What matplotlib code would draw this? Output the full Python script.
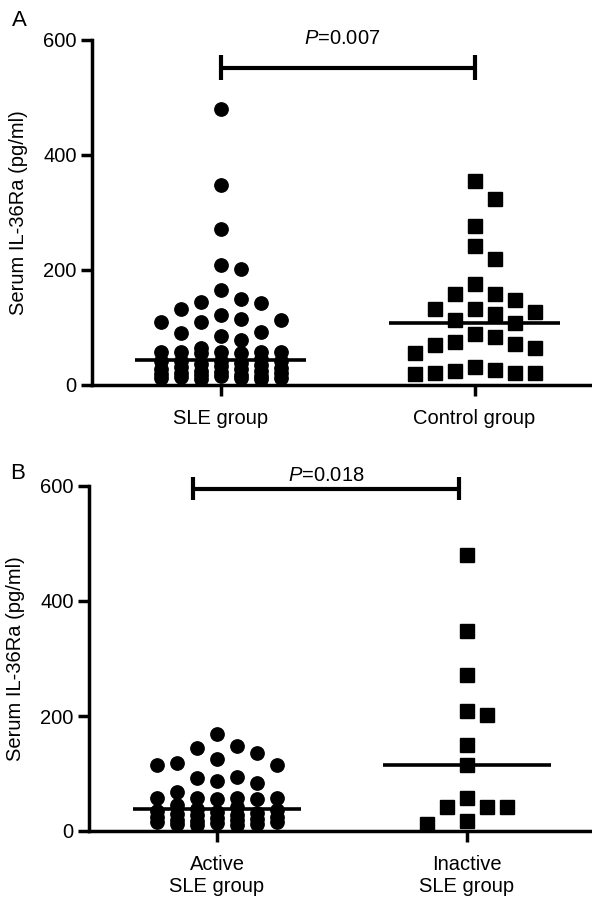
import numpy as np
import matplotlib
matplotlib.use("Agg")
import matplotlib.pyplot as plt

plt.rcParams['font.family'] = ['Liberation Sans', 'DejaVu Sans']
plt.rcParams['mathtext.fontset'] = 'custom'
plt.rcParams['mathtext.rm'] = 'Liberation Sans'
plt.rcParams['mathtext.it'] = 'Liberation Sans:italic'

# ---------------- data ----------------
groups_a = ['SLE group', 'Control group']
sle = [480, 347, 271, 209, 202, 165, 150, 145, 142, 132, 122, 115, 113, 110, 110,
       93, 91, 85, 78, 64, 58, 58, 57, 57, 57, 56, 55,
       45, 42, 42, 42, 42, 38, 36, 35, 33, 32, 30, 28, 27, 25, 24, 22, 21, 20,
       19, 17, 17, 16, 15, 14, 13, 12, 12, 11, 10]
control = [354, 323, 277, 242, 219, 175, 159, 159, 147, 133, 133, 127, 123, 113, 108,
           89, 84, 75, 72, 70, 64, 55, 32, 26, 25, 20, 20, 20, 19]

groups_b = ['Active\nSLE group', 'Inactive\nSLE group']
active = [169, 148, 144, 135, 125, 118, 115, 115, 94, 93, 87, 83, 68,
          58, 58, 57, 57, 56, 55,
          45, 42, 38, 36, 35, 33, 32, 30, 28, 27, 25, 24, 22, 21, 20, 19, 17,
          16, 15, 14, 13, 12, 11, 10]
inactive = [480, 348, 271, 209, 202, 150, 115, 58, 42, 42, 42, 17, 12]

p_text_a = 'P=0.007'
p_text_b = 'P=0.018'
y_label = 'Serum IL-36Ra (pg/ml)'
y_ticks = [0, 200, 400, 600]

# ---------------- figure ----------------
W, H = 592, 898
fig = plt.figure(figsize=(W / 100, H / 100), dpi=100)


def px_axes(left, right, top, bottom):
    return fig.add_axes([left / W, 1 - bottom / H, (right - left) / W, (bottom - top) / H])


axA = px_axes(92, 592, 40, 385)
axB = px_axes(89, 592, 486, 831)

LW = 2.5
FS = 14.5


def style(ax, xlim, labels):
    ax.set_xlim(*xlim)
    ax.set_ylim(0, 600)
    for s in ['top', 'right']:
        ax.spines[s].set_visible(False)
    for s in ['left', 'bottom']:
        ax.spines[s].set_linewidth(LW)
    ax.set_yticks(y_ticks)
    ax.set_xticks(range(len(labels)))
    ax.set_xticklabels(labels, fontsize=FS, linespacing=1.25)
    ax.tick_params(axis='both', direction='out', length=8, width=LW, labelsize=FS)
    ax.tick_params(axis='x', pad=9)
    ax.tick_params(axis='y', pad=3)
    ax.set_ylabel(y_label, fontsize=FS)
    ax.yaxis.set_label_coords(-0.128, 0.5)


style(axA, (-0.506, 1.462), groups_a)
style(axB, (-0.512, 1.5), groups_b)


def swarm(ax, values, spacing_px=20.0, dy_px=20.0, max_px=70.0):
    """Prism-like dot spreading: points are offset sideways on a half-spacing grid
    until they clear their neighbours; when the column is full they overlap where
    the overlap is smallest."""
    vals = np.asarray(values, float)
    ys = ax.transData.transform(np.column_stack([np.zeros(len(vals)), vals]))[:, 1]
    ppu = ax.transData.transform((1, 0))[0] - ax.transData.transform((0, 0))[0]
    order = np.argsort(-vals, kind='stable')
    placed = []
    offs = np.zeros(len(vals))
    nmax = int(round(max_px / (spacing_px / 2)))
    cands = [0]
    for k in range(1, nmax + 1):
        cands += [k, -k]
    for i in order:
        best, best_score = None, -1.0
        for k in cands:
            ox = k * spacing_px / 2
            dmin = np.inf
            for (px, py) in placed:
                if abs(ox - px) < spacing_px * 0.99:
                    dmin = min(dmin, abs(ys[i] - py))
            if dmin >= dy_px:
                best = ox
                break
            if dmin > best_score + 0.5:
                best, best_score = ox, dmin
        placed.append((best, ys[i]))
        offs[i] = best / ppu
    return offs


def draw_group(ax, pos, values, marker, ms):
    offs = swarm(ax, values)
    ax.plot(pos + offs, values, linestyle='none', marker=marker, ms=ms,
            color='black', mec='black', clip_on=False, zorder=3)
    med = np.median(values)
    ax.hlines(med, pos - 0.336, pos + 0.336, color='black', lw=2.6, zorder=4)


draw_group(axA, 0, sle, 'o', 9.6)
draw_group(axA, 1, control, 's', 9.6)
draw_group(axB, 0, active, 'o', 9.6)
draw_group(axB, 1, inactive, 's', 9.6)


def bracket(ax, x0, x1, y, cap, text, ty, tx):
    ax.plot([x0, x1], [y, y], color='black', lw=3, clip_on=False, solid_capstyle='butt')
    for x in (x0, x1):
        ax.plot([x, x], [y - cap, y + cap], color='black', lw=3, clip_on=False,
                solid_capstyle='butt')
    t = '$P$' + text[1:]
    ax.text(tx, ty, t, ha='center', va='center', fontsize=FS, clip_on=False)


bracket(axA, 0.0, 1.0, 552, 22, p_text_a, 603, 0.48)
bracket(axB, -0.096, 0.968, 595, 20, p_text_b, 619, 0.436)

fig.text(12 / W, 1 - 20.5 / H, 'A', fontsize=16, ha='left', va='center')
fig.text(10 / W, 1 - 474 / H, 'B', fontsize=16, ha='left', va='center')

fig.savefig('out.png', dpi=100)
